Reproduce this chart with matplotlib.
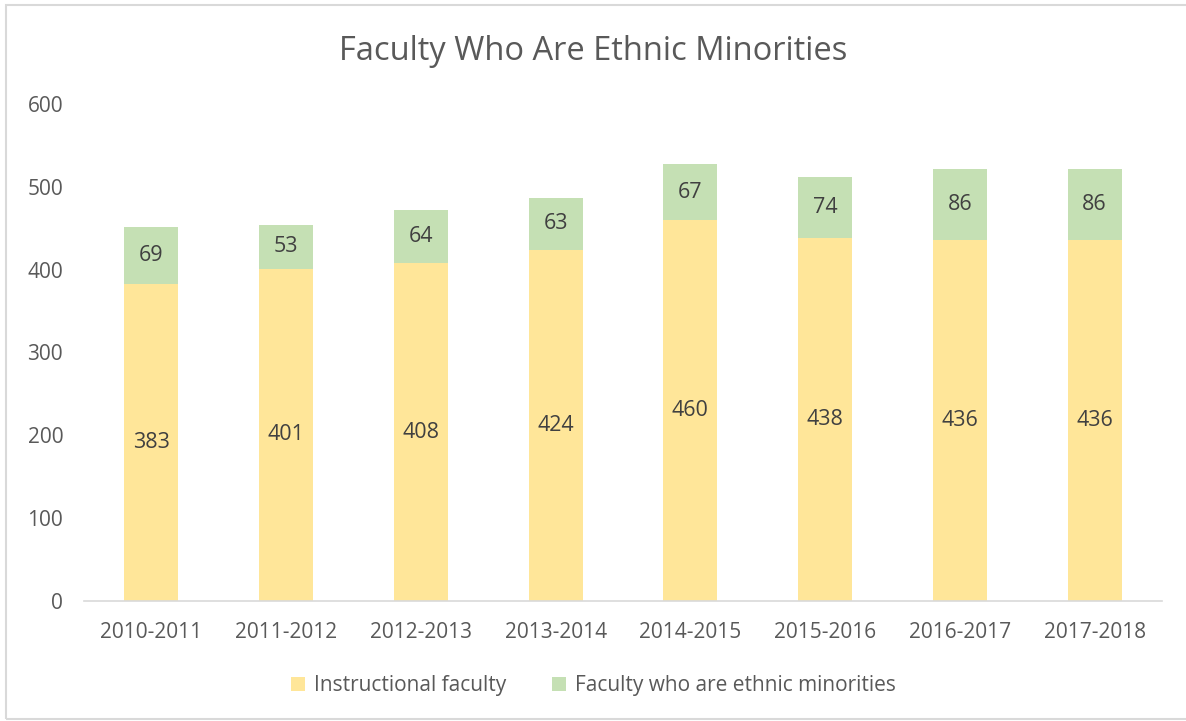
import matplotlib.pyplot as plt
import numpy as np
from matplotlib.patches import Rectangle

plt.rcParams['font.family'] = ['Open Sans', 'DejaVu Sans']

years = ["2010-2011", "2011-2012", "2012-2013", "2013-2014",
         "2014-2015", "2015-2016", "2016-2017", "2017-2018"]
instructional = [383, 401, 408, 424, 460, 438, 436, 436]
minorities = [69, 53, 64, 63, 67, 74, 86, 86]

yellow = "#FFE699"
green = "#C5E0B4"
text_col = "#595959"

fig = plt.figure(figsize=(11.86, 7.21), dpi=100)
ax = fig.add_axes([0.0708, 0.1664, 0.909, 0.6894])

x = np.arange(len(years))
b1 = ax.bar(x, instructional, width=0.4, color=yellow, label="Instructional faculty")
b2 = ax.bar(x, minorities, width=0.4, bottom=instructional, color=green,
            label="Faculty who are ethnic minorities")

# value labels centred in each segment
for i in range(len(years)):
    ax.text(x[i], instructional[i] / 2, str(instructional[i]), ha="center", va="center",
            fontsize=15.5, color="#404040")
    ax.text(x[i], instructional[i] + minorities[i] / 2, str(minorities[i]), ha="center",
            va="center", fontsize=15.5, color="#404040")

ax.set_xlim(-0.5, len(years) - 0.5)
ax.set_ylim(0, 600)
ax.set_yticks(range(0, 601, 100))
ax.set_xticks(x)
ax.set_xticklabels(years)
ax.tick_params(axis="both", length=0, labelsize=15, labelcolor=text_col)
ax.tick_params(axis="y", pad=15)
ax.tick_params(axis="x", pad=15)
for s in ["top", "right", "left"]:
    ax.spines[s].set_visible(False)
ax.spines["bottom"].set_color("#D9D9D9")
ax.spines["bottom"].set_linewidth(1.2)

fig.text(0.5, 0.928, "Faculty Who Are Ethnic Minorities", ha="center", va="center",
         fontsize=23.5, color=text_col)

fig.legend(handles=[b1, b2], loc="center", bbox_to_anchor=(0.5, 0.049), ncol=2,
           frameon=False, fontsize=15, labelcolor=text_col, handlelength=0.7,
           handleheight=0.7, columnspacing=2.2, handletextpad=0.4)

# chart-area border
fig.patches.append(Rectangle((0.005, 0.003), 1.2, 0.99, transform=fig.transFigure,
                             fill=False, edgecolor="#D9D9D9", linewidth=1.5))

fig.savefig("out.png", dpi=100)
